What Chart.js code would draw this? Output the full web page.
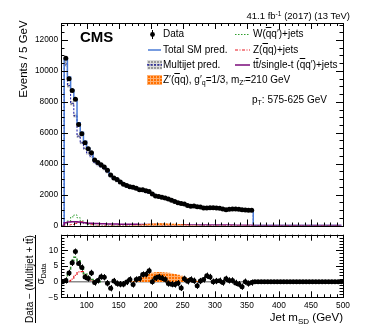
<!DOCTYPE html>
<html>
<head>
<meta charset="utf-8">
<script src="https://cdn.jsdelivr.net/npm/chart.js@4.4.0/dist/chart.umd.min.js"></script>
<style>
  body { margin: 0; background: #fff; width: 382px; height: 329px; position: relative; overflow: hidden;
         font-family: "Liberation Sans", Arial, sans-serif; }
  canvas { position: absolute; left: 0; top: 0; }
  .t { position: absolute; white-space: nowrap; line-height: 1; color: #000; }
  .sub { font-size: 70%; position: relative; top: 0.35em; }
  .sup { font-size: 70%; position: relative; top: -0.45em; }
  .ol { text-decoration: overline; }
  .rot { transform: translate(-50%, -50%) rotate(-90deg); }
</style>
</head>
<body>
<canvas id="topChart" width="382" height="329"></canvas>
<canvas id="pullChart" width="382" height="329"></canvas>

<div class="t" style="right:32px; top:10.8px; font-size:9.5px;">41.1 fb<span class="sup">-1</span> (2017) (13 TeV)</div>
<div class="t" style="left:80px; top:28.5px; font-size:15px; font-weight:bold;">CMS</div>
<div class="t" style="left:163px; top:29.4px; font-size:10px;">Data</div>
<div class="t" style="left:163px; top:45.1px; font-size:10px;">Total SM pred.</div>
<div class="t" style="left:163px; top:59.8px; font-size:10px;">Multijet pred.</div>
<div class="t" style="left:163px; top:74.8px; font-size:10px;">Z′(<span class="ol">q</span>q), g′<span class="sub">q</span>=1/3, m<span class="sub">Z′</span>=210 GeV</div>
<div class="t" style="left:253px; top:29.4px; font-size:10px;">W(<span class="ol">q</span>q′)+jets</div>
<div class="t" style="left:253px; top:45.1px; font-size:10px;">Z(<span class="ol">q</span>q)+jets</div>
<div class="t" style="left:253px; top:59.8px; font-size:10px;">t<span class="ol">t</span>/single-t (<span class="ol">q</span>q′)+jets</div>
<div class="t" style="left:252px; top:94.5px; font-size:10px;">p<span class="sub">T</span>: 575-625 GeV</div>
<div class="t rot" style="left:24px; top:58.5px; font-size:11.5px;">Events / 5 GeV</div>
<div class="t rot" style="left:29.5px; top:279px; font-size:10px;">Data − (Multijet + t<span class="ol">t</span>)</div>
<div style="position:absolute; left:35px; top:235px; width:1px; height:88px; background:#000;"></div>
<div class="t rot" style="left:41px; top:274px; font-size:10px;">σ<span class="sub">Data</span></div>
<div class="t" style="right:39px; top:312px; font-size:11.5px;">Jet m<span class="sub">SD</span> (GeV)</div>

<script>
// bin centres (GeV), 5 GeV bins from 60 to 500
const massBins = [
  62.5, 67.5, 72.5, 77.5, 82.5, 87.5, 92.5, 97.5, 102.5, 107.5,
  112.5, 117.5, 122.5, 127.5, 132.5, 137.5, 142.5, 147.5, 152.5, 157.5,
  162.5, 167.5, 172.5, 177.5, 182.5, 187.5, 192.5, 197.5, 202.5, 207.5,
  212.5, 217.5, 222.5, 227.5, 232.5, 237.5, 242.5, 247.5, 252.5, 257.5,
  262.5, 267.5, 272.5, 277.5, 282.5, 287.5, 292.5, 297.5, 302.5, 307.5,
  312.5, 317.5, 322.5, 327.5, 332.5, 337.5, 342.5, 347.5, 352.5, 357.5,
  362.5, 367.5, 372.5, 377.5, 382.5, 387.5, 392.5, 397.5, 402.5, 407.5,
  412.5, 417.5, 422.5, 427.5, 432.5, 437.5, 442.5, 447.5, 452.5, 457.5,
  462.5, 467.5, 472.5, 477.5, 482.5, 487.5, 492.5, 497.5
];
const xTicks = [100, 150, 200, 250, 300, 350, 400, 450, 500];
const topYTicks = [0, 2000, 4000, 6000, 8000, 10000, 12000];
const pullYTicks = [-5, 0, 5, 10];

// events per bin, starting at 62.5 GeV (bins not listed are empty)
const dataEvents = [
  null, 10820, 9500, 8740, 8160, 6530, 5940, 5350, 4960, 4700, 4240,
  4080, 3935, 3785, 3575, 3265, 3070, 2975, 2820, 2675, 2585,
  2510, 2475, 2410, 2310, 2305, 2240, 2195, 2040, 1905, 1870,
  1835, 1780, 1715, 1640, 1560, 1475, 1425, 1390, 1295, 1245,
  1255, 1215, 1190, 1135, 1130, 1150, 1150, 1135, 1110, 1060,
  1020, 1045, 1075, 1070, 1055, 1015, 995, 990, 990
];
const totalSM = [
  0, 10740, 9600, 8770, 8170, 6650, 6030, 5450, 5000, 4700, 4260,
  4060, 3920, 3760, 3560, 3280, 3090, 2960, 2820, 2690, 2590,
  2500, 2450, 2400, 2320, 2270, 2210, 2150, 2050, 1930, 1860,
  1810, 1760, 1700, 1640, 1570, 1500, 1450, 1400, 1300, 1250,
  1240, 1210, 1180, 1150, 1120, 1110, 1110, 1110, 1100, 1060,
  1030, 1040, 1060, 1060, 1050, 1020, 1010, 990, 990
];
const multijet = [
  0, 10450, 9050, 7900, 7100, 5780, 5350, 5000, 4680, 4480, 4090,
  3920, 3795, 3650, 3455, 3180, 2995, 2870, 2735, 2610, 2510,
  2420, 2375, 2325, 2250, 2200, 2140, 2085, 1985, 1870, 1800,
  1750, 1705, 1645, 1590, 1520, 1450, 1405, 1355, 1260, 1210,
  1200, 1175, 1145, 1115, 1085, 1080, 1080, 1080, 1070, 1030,
  1005, 1015, 1035, 1035, 1025, 1000, 990, 970, 970
];
const multijetRelUnc = 0.015;
const wJets = [0, 100, 300, 560, 680, 500, 300, 120, 60, 30, 15, 8, 5, 3, 2];
const zJets = [0, 5, 20, 60, 140, 220, 250, 200, 110, 50, 20, 10, 5, 3];
const topBkg = [
  0, 180, 230, 250, 245, 225, 200, 175, 150, 140, 128,
  122, 114, 110, 104, 99, 96, 90, 87, 81, 80,
  77, 76, 73, 71, 70, 67, 66, 63, 62, 59,
  58, 55, 54, 51, 50, 48, 45, 44, 41, 40,
  38, 36, 35, 33, 33, 31, 31, 29, 29, 27,
  27, 25, 25, 23, 23, 21, 21, 20, 18
];

// Z' signal, m = 210 GeV
const signalMass = [172.5, 177.5, 182.5, 187.5, 192.5, 197.5, 202.5, 207.5, 212.5, 217.5,
  222.5, 227.5, 232.5, 237.5, 242.5, 247.5, 252.5, 257.5, 262.5, 267.5, 272.5];
const signalEvents = [5, 15, 30, 50, 70, 90, 105, 115, 120, 120, 115, 105, 95, 85, 72, 60, 45, 30, 18, 10, 5];
const signalPull = [0.1, 0.3, 0.7, 1.3, 1.9, 2.4, 2.7, 2.9, 3.0, 2.9, 2.8, 2.7, 2.5, 2.3, 2.1, 1.8, 1.4, 1.0, 0.6, 0.3, 0.1];

// (Data - (Multijet + tt)) / sigma_Data, starting at 62.5 GeV; empty bins are 0
const pullData = [
  0, 0.4, 2.8, 6.0, 9.6, 5.8, 4.5, 1.5, 1.0, 2.8,
  -0.3, 0.4, 1.6, 1.4, -0.5, -2.1, 0.2, -0.6, -0.8, -0.8,
  -0.1, 0.7, -0.9, 0.7, 1.0, 2.3, 2.4, 3.5, 0, 1.2,
  1.5, 1.2, 0.7, -0.6, -0.8, -0.9, -0.5, -2.0, 0.9, 0.1,
  0.7, 0.3, -1.3, 0.2, 0.7, 1.9, 1.5, 0, 0.2, 0.3,
  -0.3, 0.9, 0.4, 0.4, -0.4, -0.8, -1.6, 0, -0.6, -0.3
];
const pullW = [0, 0.8, 3.2, 6.8, 7.8, 6.6, 4.5, 2.5, 1.4, 0.7, 0.3, 0.1, 0];
const pullZ = [0, 0, 0.2, 0.8, 2.0, 3.1, 3.2, 2.2, 1.0, 0.4, 0.1, 0];

const FONT = "'Liberation Sans', Arial, sans-serif";

function pad(arr, fill) {
  return massBins.map((m, i) => (i < arr.length ? arr[i] : fill));
}
function pts(arr) {
  return arr.map((v, i) => ({ x: massBins[i], y: v }));
}
function hatch(ctx, base, line) {
  const c = document.createElement('canvas');
  c.width = 3; c.height = 3;
  const g = c.getContext('2d');
  g.fillStyle = base; g.fillRect(0, 0, 3, 3);
  g.fillStyle = line; g.fillRect(0, 0, 3, 1); g.fillRect(0, 0, 1, 3);
  return ctx.createPattern(c, 'repeat');
}
function fixedTicks(values) {
  return s => { s.ticks = values.map(v => ({ value: v })); };
}

// ROOT style frame with inward ticks on all sides
const frameTicks = {
  id: 'frameTicks',
  afterDraw(chart, args, o) {
    const { ctx, chartArea: a, scales: { x, y } } = chart;
    const near = (v, s) => Math.abs(v / s - Math.round(v / s)) < 1e-6;
    ctx.save();
    ctx.strokeStyle = '#000';
    ctx.lineWidth = 1;
    ctx.beginPath();
    for (let v = x.min; v <= x.max + 1e-6; v += o.xMinor) {
      const px = Math.round(x.getPixelForValue(v)) + 0.5;
      const len = near(v, o.xMajor) ? o.xLen : o.xLen / 2;
      ctx.moveTo(px, a.bottom); ctx.lineTo(px, a.bottom - len);
      ctx.moveTo(px, a.top); ctx.lineTo(px, a.top + len);
    }
    for (let v = Math.ceil(y.min / o.yMinor) * o.yMinor; v <= y.max + 1e-6; v += o.yMinor) {
      const py = Math.round(y.getPixelForValue(v)) + 0.5;
      const len = near(v, o.yMajor) ? o.yLen : o.yLen / 2;
      ctx.moveTo(a.left, py); ctx.lineTo(a.left + len, py);
      ctx.moveTo(a.right, py); ctx.lineTo(a.right - len, py);
    }
    ctx.stroke();
    ctx.strokeRect(Math.round(a.left) + 0.5, Math.round(a.top) + 0.5,
      Math.round(a.right) - Math.round(a.left), Math.round(a.bottom) - Math.round(a.top));
    // y labels drawn by hand for the pull panel
    if (o.yLabels) {
      ctx.fillStyle = '#000';
      ctx.font = '8.3px ' + FONT;
      ctx.textAlign = 'right';
      ctx.textBaseline = 'middle';
      o.yLabels.forEach(v => {
        ctx.fillText(String(v).replace('-', '\u2212'), a.left - 3, y.getPixelForValue(v));
      });
    }
    ctx.restore();
  }
};

const errorBars = {
  id: 'errorBars',
  afterDatasetsDraw(chart) {
    const { ctx, scales: { x, y } } = chart;
    chart.data.datasets.forEach(ds => {
      if (!ds.yErr) return;
      ctx.save();
      ctx.strokeStyle = '#000';
      ctx.lineWidth = 1;
      ctx.beginPath();
      ds.data.forEach((p, j) => {
        const e = ds.yErr[j];
        if (p.y == null || !e) return;
        const px = Math.round(x.getPixelForValue(p.x)) + 0.5;
        ctx.moveTo(px, y.getPixelForValue(p.y - e));
        ctx.lineTo(px, y.getPixelForValue(p.y + e));
      });
      ctx.stroke();
      ctx.restore();
    });
  }
};

const topCtx = document.getElementById('topChart').getContext('2d');
const pullCtx = document.getElementById('pullChart').getContext('2d');
const grayHatch = hatch(topCtx, '#9a9a9a', '#dcdcdc');
const orangeTop = hatch(topCtx, '#ff7000', '#ffb070');
const orangePull = hatch(pullCtx, '#ff7000', '#ffb070');

const legendSymbols = {
  id: 'legendSymbols',
  afterDraw(chart) {
    const ctx = chart.ctx;
    ctx.save();
    // Data
    ctx.strokeStyle = '#000'; ctx.lineWidth = 1;
    ctx.beginPath(); ctx.moveTo(152.5, 30); ctx.lineTo(152.5, 39); ctx.stroke();
    ctx.fillStyle = '#000';
    ctx.beginPath(); ctx.arc(152.5, 34.5, 2.4, 0, Math.PI * 2); ctx.fill();
    // Total SM
    ctx.strokeStyle = '#4a7bd6'; ctx.lineWidth = 1.5;
    ctx.beginPath(); ctx.moveTo(148, 50); ctx.lineTo(161, 50); ctx.stroke();
    // Multijet
    ctx.fillStyle = grayHatch; ctx.fillRect(147, 60, 15, 9.5);
    ctx.strokeStyle = '#1010a0'; ctx.lineWidth = 1.2; ctx.setLineDash([2, 1.5]);
    ctx.beginPath(); ctx.moveTo(147, 64.8); ctx.lineTo(162, 64.8); ctx.stroke();
    ctx.setLineDash([]);
    // Z'
    ctx.fillStyle = orangeTop; ctx.fillRect(147, 75, 15, 10);
    // W
    ctx.strokeStyle = '#2e9e2e'; ctx.lineWidth = 1; ctx.setLineDash([1.5, 1.5]);
    ctx.beginPath(); ctx.moveTo(235, 34.5); ctx.lineTo(250, 34.5); ctx.stroke();
    // Z
    ctx.strokeStyle = '#e8141c'; ctx.setLineDash([3, 1.5, 1, 1.5]);
    ctx.beginPath(); ctx.moveTo(235, 50); ctx.lineTo(250, 50); ctx.stroke();
    ctx.setLineDash([]);
    // tt
    ctx.strokeStyle = '#7a0a7a'; ctx.lineWidth = 1.5;
    ctx.beginPath(); ctx.moveTo(235, 65); ctx.lineTo(250, 65); ctx.stroke();
    ctx.restore();
  }
};

const tickFont = { family: FONT, size: 8.3 };

new Chart(topCtx, {
  type: 'line',
  data: {
    datasets: [
      { label: 'Data', data: pts(dataEvents), showLine: false, pointRadius: 2.5,
        pointBackgroundColor: '#000', pointBorderWidth: 0, order: 0 },
      { label: "Z'", type: 'bar', data: signalMass.map((m, i) => ({ x: m, y: signalEvents[i] })),
        backgroundColor: orangeTop, borderWidth: 0, grouped: false,
        barPercentage: 1, categoryPercentage: 1, order: 1 },
      { label: 'tt', data: pts(pad(topBkg, 0)), stepped: 'middle', borderColor: '#7a0a7a',
        borderWidth: 1.5, pointRadius: 0, order: 2 },
      { label: 'Z', data: pts(pad(zJets, 0)), stepped: 'middle', borderColor: '#e8141c',
        borderWidth: 1, borderDash: [3, 1.5, 1, 1.5], pointRadius: 0, order: 3 },
      { label: 'W', data: pts(pad(wJets, 0)), stepped: 'middle', borderColor: '#2e9e2e',
        borderWidth: 1, borderDash: [1.5, 1.5], pointRadius: 0, order: 4 },
      { label: 'Total SM', data: pts(pad(totalSM, 0)), stepped: 'middle', borderColor: '#4a7bd6',
        borderWidth: 1.5, pointRadius: 0, order: 5 },
      { label: 'Multijet', data: pts(pad(multijet, 0)), stepped: 'middle', borderColor: '#1010a0',
        borderWidth: 1, borderDash: [2, 1.5], pointRadius: 0, order: 6 },
      { label: 'Multijet unc', type: 'bar',
        data: multijet.map((v, i) => ({ x: massBins[i], y: [v * (1 - multijetRelUnc), v * (1 + multijetRelUnc)] })),
        backgroundColor: grayHatch, borderWidth: 0, grouped: false,
        barPercentage: 1, categoryPercentage: 1, order: 7 }
    ]
  },
  options: {
    responsive: false,
    animation: false,
    layout: { padding: { left: 0, right: 39, top: 23, bottom: 103.5 } },
    plugins: {
      legend: { display: false },
      tooltip: { enabled: false },
      frameTicks: { xMajor: 50, xMinor: 10, xLen: 6, yMajor: 2000, yMinor: 500, yLen: 7 }
    },
    scales: {
      x: { type: 'linear', min: 60, max: 500, offset: false, display: false },
      y: {
        min: 0, max: 13100,
        afterFit: s => { s.width = 61; },
        afterBuildTicks: fixedTicks(topYTicks),
        grid: { display: false, drawTicks: false },
        border: { display: false },
        ticks: { autoSkip: false, padding: 3, color: '#000', font: tickFont, callback: v => String(v) }
      }
    }
  },
  plugins: [frameTicks, legendSymbols]
});

const hasData = pad(dataEvents, null).map(v => v != null);

new Chart(pullCtx, {
  type: 'line',
  data: {
    datasets: [
      { label: 'Data', data: pts(pad(pullData, 0)), showLine: false, pointRadius: 2.5,
        pointBackgroundColor: '#000', pointBorderWidth: 0, order: 0,
        yErr: hasData.map(h => (h ? 1 : 0)) },
      { label: 'W', data: pts(pullW), stepped: 'middle', borderColor: '#2e8b2e',
        borderWidth: 1.5, borderDash: [3, 2], pointRadius: 0, order: 2 },
      { label: 'Z', data: pts(pullZ), stepped: 'middle', borderColor: '#e8141c',
        borderWidth: 1.2, borderDash: [3, 1.5, 1, 1.5], pointRadius: 0, order: 3 },
      { label: "Z'", type: 'bar', data: signalMass.map((m, i) => ({ x: m, y: signalPull[i] })),
        backgroundColor: orangePull, borderWidth: 0, grouped: false,
        barPercentage: 1, categoryPercentage: 1, order: 4 },
      { label: 'zero', data: [{ x: 60, y: 0 }, { x: 500, y: 0 }], borderColor: '#8c8c8c',
        borderWidth: 1.5, pointRadius: 0, order: 5 }
    ]
  },
  options: {
    responsive: false,
    animation: false,
    layout: { padding: { left: 0, right: 39, top: 234.7, bottom: 0 } },
    plugins: {
      legend: { display: false },
      tooltip: { enabled: false },
      frameTicks: { xMajor: 50, xMinor: 10, xLen: 6, yMajor: 5, yMinor: 1, yLen: 7, yLabels: pullYTicks }
    },
    scales: {
      x: {
        type: 'linear', min: 60, max: 500, offset: false,
        afterFit: s => { s.height = 31.7; },
        afterBuildTicks: fixedTicks(xTicks),
        grid: { display: false, drawTicks: false },
        border: { display: false },
        ticks: { autoSkip: false, maxRotation: 0, padding: 3, color: '#000', font: tickFont,
          callback: v => String(v) }
      },
      y: {
        min: -5, max: 15,
        afterFit: s => { s.width = 61; },
        grid: { display: false, drawTicks: false },
        border: { display: false },
        ticks: { display: false }
      }
    }
  },
  plugins: [frameTicks, errorBars]
});
</script>
</body>
</html>
